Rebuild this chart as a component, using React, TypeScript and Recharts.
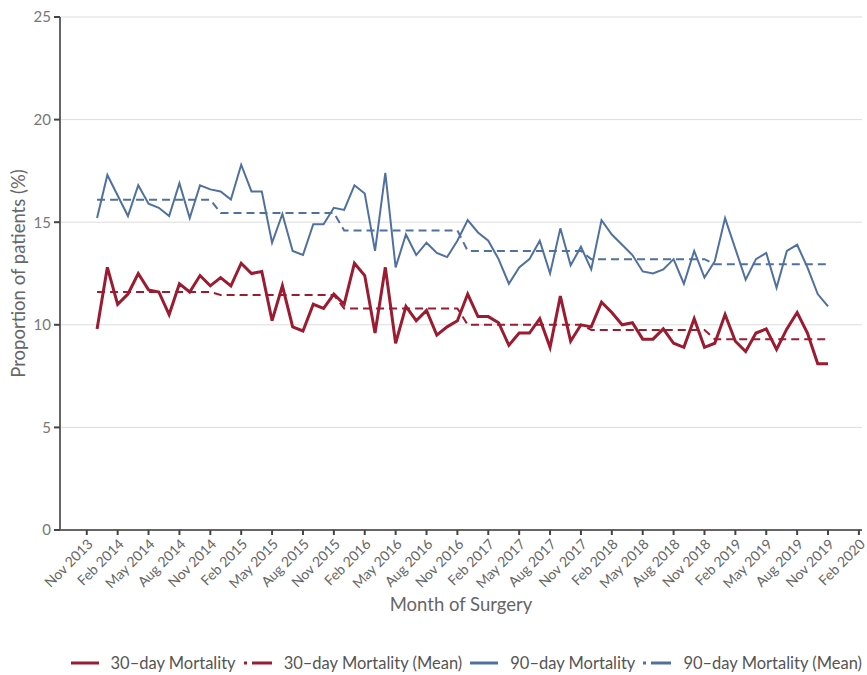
import React from 'react';
import { LineChart, Line, XAxis, YAxis, CartesianGrid, Legend } from 'recharts';

// monthly values, Dec 2013 .. Nov 2019 (month index 1..72, 0 = Nov 2013)
const thirtyDay = [
  9.8, 12.8, 11.0, 11.5, 12.5, 11.7, 11.6, 10.5, 12.0, 11.6, 12.4, 11.9,
  12.3, 11.9, 13.0, 12.5, 12.6, 10.2, 11.9, 9.9, 9.7, 11.0, 10.8, 11.5,
  11.0, 13.0, 12.4, 9.6, 12.8, 9.1, 10.9, 10.2, 10.7, 9.5, 9.9, 10.2,
  11.5, 10.4, 10.4, 10.1, 9.0, 9.6, 9.6, 10.3, 8.9, 11.4, 9.2, 10.0,
  9.9, 11.1, 10.6, 10.0, 10.1, 9.3, 9.3, 9.8, 9.1, 8.9, 10.3, 8.9,
  9.1, 10.5, 9.2, 8.7, 9.6, 9.8, 8.8, 9.8, 10.6, 9.6, 8.1, 8.1,
];

const ninetyDay = [
  15.2, 17.3, 16.3, 15.3, 16.8, 15.9, 15.7, 15.3, 16.9, 15.2, 16.8, 16.6,
  16.5, 16.1, 17.8, 16.5, 16.5, 14.0, 15.4, 13.6, 13.4, 14.9, 14.9, 15.7,
  15.6, 16.8, 16.4, 13.6, 17.4, 12.8, 14.4, 13.4, 14.0, 13.5, 13.3, 14.1,
  15.1, 14.5, 14.1, 13.2, 12.0, 12.8, 13.2, 14.1, 12.5, 14.7, 12.9, 13.8,
  12.7, 15.1, 14.4, 13.9, 13.4, 12.6, 12.5, 12.7, 13.2, 12.0, 13.6, 12.3,
  13.1, 15.2, 13.7, 12.2, 13.2, 13.5, 11.8, 13.6, 13.9, 12.8, 11.5, 10.9,
];

// yearly means (12-month blocks starting Dec)
const thirtyDayMean = [11.6, 11.45, 10.8, 10.0, 9.75, 9.3];
const ninetyDayMean = [16.1, 15.45, 14.6, 13.6, 13.2, 12.95];

const tickMonths = [
  0, 3, 6, 9, 12, 15, 18, 21, 24, 27, 30, 33, 36,
  39, 42, 45, 48, 51, 54, 57, 60, 63, 66, 69, 72, 75,
];
const tickLabels = [
  'Nov 2013', 'Feb 2014', 'May 2014', 'Aug 2014', 'Nov 2014', 'Feb 2015', 'May 2015',
  'Aug 2015', 'Nov 2015', 'Feb 2016', 'May 2016', 'Aug 2016', 'Nov 2016', 'Feb 2017',
  'May 2017', 'Aug 2017', 'Nov 2017', 'Feb 2018', 'May 2018', 'Aug 2018', 'Nov 2018',
  'Feb 2019', 'May 2019', 'Aug 2019', 'Nov 2019', 'Feb 2020',
];
const yTicks = [0, 5, 10, 15, 20, 25];

const RED = '#9b1b30';
const BLUE = '#5070a0';
const FONT = 'Lato, "Open Sans", sans-serif';

const chartData = thirtyDay.map((v, i) => ({
  m: i + 1,
  thirty: v,
  thirtyMean: thirtyDayMean[Math.floor(i / 12)],
  ninety: ninetyDay[i],
  ninetyMean: ninetyDayMean[Math.floor(i / 12)],
}));

const legendItems = [
  { label: '30–day Mortality', color: RED, dash: undefined },
  { label: '30–day Mortality (Mean)', color: RED, dash: '3 5 20' },
  { label: '90–day Mortality', color: BLUE, dash: undefined },
  { label: '90–day Mortality (Mean)', color: BLUE, dash: '3 5 20' },
];

const CustomLegend = () => (
  <div style={{
    display: 'flex',
    justifyContent: 'flex-end',
    alignItems: 'flex-end',
    height: 38,
    paddingBottom: 2,
    boxSizing: 'border-box',
    fontFamily: FONT,
    fontSize: 16.5,
    color: '#555',
  }}>
    {legendItems.map((item) => (
      <div key={item.label} style={{ display: 'flex', alignItems: 'center', marginLeft: 8, lineHeight: '20px' }}>
        <svg width={28} height={10} style={{ marginRight: 12 }}>
          <line x1={0} y1={5} x2={28} y2={5} stroke={item.color} strokeWidth={3} strokeDasharray={item.dash} />
        </svg>
        <span>{item.label}</span>
      </div>
    ))}
  </div>
);

export default function App() {
  return (
    <div style={{ position: 'absolute', left: 0, top: 0, width: 867, height: 675, background: '#fff' }}>
      <LineChart
        width={867}
        height={675}
        data={chartData}
        margin={{ top: 17, right: 5, left: 0, bottom: 0 }}
        style={{ fontFamily: FONT }}
      >
        <CartesianGrid vertical={false} stroke="#dcdcdc" strokeWidth={1} />
        <XAxis
          dataKey="m"
          type="number"
          domain={[-2.6, 75.3]}
          allowDataOverflow
          ticks={tickMonths}
          interval={0}
          tickFormatter={(v: number) => tickLabels[tickMonths.indexOf(v)]}
          angle={-45}
          textAnchor="end"
          height={107}
          tickSize={5}
          tickMargin={3}
          tick={{ fill: '#666', fontSize: 14 }}
          axisLine={{ stroke: '#666', strokeWidth: 2 }}
          tickLine={{ stroke: '#444', strokeWidth: 2 }}
          label={{
            value: 'Month of Surgery',
            position: 'insideBottom',
            offset: 26,
            style: { fill: '#666', fontSize: 18.5 },
          }}
        />
        <YAxis
          type="number"
          domain={[0, 25]}
          ticks={yTicks}
          width={60}
          tickSize={6}
          tickMargin={3}
          tick={{ fill: '#777', fontSize: 15 }}
          axisLine={{ stroke: '#666', strokeWidth: 2 }}
          tickLine={{ stroke: '#444', strokeWidth: 2 }}
          label={{
            value: 'Proportion of patients (%)',
            angle: -90,
            position: 'insideLeft',
            offset: 18,
            style: { fill: '#666', fontSize: 18.5, textAnchor: 'middle' },
          }}
        />
        <Legend verticalAlign="bottom" content={<CustomLegend />} wrapperStyle={{ height: 38 }} />

        <Line type="linear" dataKey="thirty" name="30–day Mortality" stroke={RED} strokeWidth={3} dot={false} isAnimationActive={false} />
        <Line type="linear" dataKey="thirtyMean" name="30–day Mortality (Mean)" stroke={RED} strokeWidth={2} strokeDasharray="8 5" dot={false} isAnimationActive={false} />
        <Line type="linear" dataKey="ninety" name="90–day Mortality" stroke={BLUE} strokeWidth={2} dot={false} isAnimationActive={false} />
        <Line type="linear" dataKey="ninetyMean" name="90–day Mortality (Mean)" stroke={BLUE} strokeWidth={2} strokeDasharray="8 5" dot={false} isAnimationActive={false} />
      </LineChart>
    </div>
  );
}
